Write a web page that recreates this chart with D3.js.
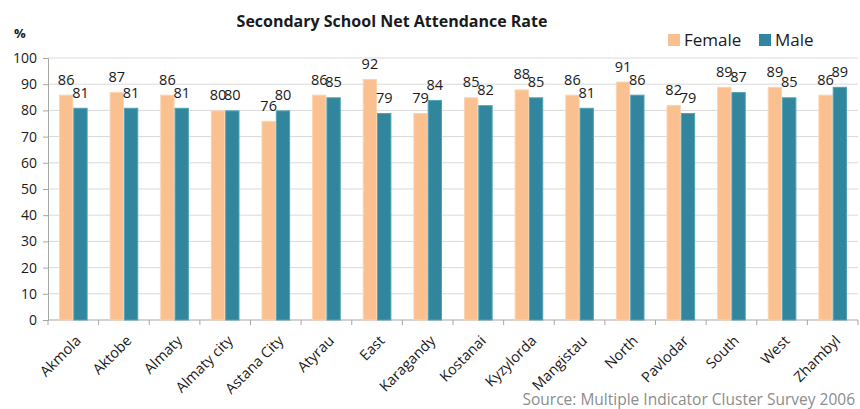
<!DOCTYPE html>
<html>
<head>
<meta charset="utf-8">
<script src="https://cdn.jsdelivr.net/npm/d3@7"></script>
<style>
  body { margin: 0; background: #fff; }
  svg text { font-family: "Open Sans", sans-serif; fill: #1a1a1a; }
</style>
</head>
<body>
<svg id="chart" width="860" height="409"></svg>
<script>
// regions along the x axis
var regions = ["Akmola", "Aktobe", "Almaty", "Almaty city", "Astana City", "Atyrau", "East",
  "Karagandy", "Kostanai", "Kyzylorda", "Mangistau", "North", "Pavlodar", "South", "West", "Zhambyl"];
var female = [86, 87, 86, 80, 76, 86, 92, 79, 85, 88, 86, 91, 82, 89, 89, 86];
var male   = [81, 81, 81, 80, 80, 85, 79, 84, 82, 85, 81, 86, 79, 87, 85, 89];
var yTicks = [0, 10, 20, 30, 40, 50, 60, 70, 80, 90, 100];
var seriesNames = ["Female", "Male"];
var colors = {Female: "#FAC090", Male: "#31859C"};
var edges = {Female: "#FCD3AE", Male: "#4FA3B8"};

var svg = d3.select("#chart");
var plot = {left: 48, right: 858, top: 58, bottom: 320};

var data = regions.map(function(r, i){
  return {region: r, values: [{key: "Female", v: female[i]}, {key: "Male", v: male[i]}]};
});

var x = d3.scaleBand().domain(regions).range([plot.left, plot.right]);
var x1 = d3.scaleBand().domain(seriesNames).range([11, x.bandwidth() - 11]);
var y = d3.scaleLinear().domain([0, 100]).range([plot.bottom, plot.top]);

// gridlines
svg.append("g")
  .selectAll("line")
  .data(yTicks.slice(1))
  .enter().append("line")
  .attr("x1", plot.left).attr("x2", plot.right)
  .attr("y1", function(d){ return y(d); })
  .attr("y2", function(d){ return y(d); })
  .attr("stroke", "#D9D9D9").attr("stroke-width", 1);

// y axis
var yAxis = svg.append("g")
  .attr("transform", "translate(" + plot.left + ",0)")
  .call(d3.axisLeft(y).tickValues(yTicks).tickSize(5).tickPadding(6));
yAxis.select(".domain").attr("stroke", "#A6A6A6");
yAxis.selectAll(".tick line").attr("stroke", "#A6A6A6");
yAxis.selectAll("text").attr("font-size", 14).attr("fill", "#1a1a1a")
  .style("font-family", "'Open Sans', sans-serif");

// x axis: ticks at category boundaries
var xAxisG = svg.append("g").attr("transform", "translate(0," + plot.bottom + ")");
xAxisG.append("line").attr("x1", plot.left).attr("x2", plot.right)
  .attr("stroke", "#A6A6A6");
xAxisG.selectAll("line.tk")
  .data(regions.concat(["end"]))
  .enter().append("line")
  .attr("class", "tk")
  .attr("x1", function(d, i){ return plot.left + i * x.bandwidth(); })
  .attr("x2", function(d, i){ return plot.left + i * x.bandwidth(); })
  .attr("y1", 0).attr("y2", 5)
  .attr("stroke", "#A6A6A6");
xAxisG.selectAll("text")
  .data(regions)
  .enter().append("text")
  .attr("transform", function(d){
    return "translate(" + (x(d) + x.bandwidth() / 2 + 5) + ",18) rotate(-45)";
  })
  .attr("text-anchor", "end")
  .attr("dy", "0.35em")
  .attr("font-size", 14.5)
  .text(function(d){ return d; });

// bars
var groups = svg.append("g")
  .selectAll("g")
  .data(data)
  .enter().append("g")
  .attr("transform", function(d){ return "translate(" + x(d.region) + ",0)"; });

groups.selectAll("rect")
  .data(function(d){ return d.values; })
  .enter().append("rect")
  .attr("x", function(d){ return x1(d.key) + 0.5; })
  .attr("width", x1.bandwidth() - 1)
  .attr("y", function(d){ return y(d.v) + 0.5; })
  .attr("height", function(d){ return y(0) - y(d.v) - 0.5; })
  .attr("fill", function(d){ return colors[d.key]; })
  .attr("stroke", function(d){ return edges[d.key]; })
  .attr("stroke-width", 1);

// value labels above bars
groups.selectAll("text")
  .data(function(d){ return d.values; })
  .enter().append("text")
  .attr("x", function(d){ return x1(d.key) + x1.bandwidth() / 2; })
  .attr("y", function(d){ return y(d.v) - 10; })
  .attr("text-anchor", "middle")
  .attr("font-size", 14.5)
  .text(function(d){ return d.v; });

// title
svg.append("text")
  .attr("x", 392).attr("y", 27)
  .attr("text-anchor", "middle")
  .attr("font-weight", "bold")
  .attr("font-size", 16)
  .text("Secondary School Net Attendance Rate");

svg.append("text")
  .attr("x", 14).attr("y", 38)
  .attr("font-weight", "bold")
  .attr("font-size", 13)
  .text("%");

// legend
var legendX = [668, 759];
var legend = svg.append("g")
  .selectAll("g")
  .data(seriesNames)
  .enter().append("g")
  .attr("transform", function(d, i){ return "translate(" + legendX[i] + ",34)"; });
legend.append("rect")
  .attr("width", 12).attr("height", 12)
  .attr("fill", function(d){ return colors[d]; });
legend.append("text")
  .attr("x", 16).attr("y", 12)
  .attr("font-size", 17)
  .text(function(d){ return d; });

// source
svg.append("text")
  .attr("x", 855).attr("y", 405)
  .attr("text-anchor", "end")
  .attr("font-size", 15.5)
  .style("fill", "#8C8C8C")
  .text("Source: Multiple Indicator Cluster Survey 2006");
</script>
</body>
</html>
